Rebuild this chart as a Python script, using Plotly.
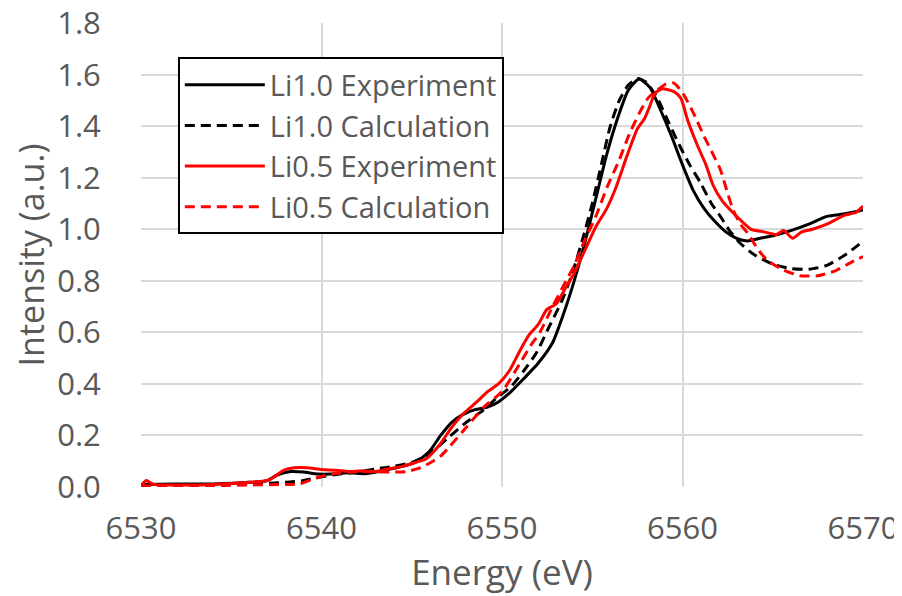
import plotly.graph_objects as go

# Li1.0 Experiment
x_li10_exp = [6530, 6532, 6534, 6536, 6537, 6537.5, 6538.3, 6539, 6539.8, 6540.5, 6541.5, 6542.5, 6543.5,
              6544.5, 6545.3, 6546, 6546.6, 6547.2, 6547.8, 6548.5, 6549.2, 6549.8, 6550.5, 6551.2, 6552,
              6552.8, 6553.4, 6554, 6554.6, 6555.2, 6555.8, 6556.4, 6557, 6557.6, 6558.2, 6558.8, 6559.4,
              6560, 6560.6, 6561.2, 6561.8, 6562.4, 6563, 6563.6, 6564.3, 6565, 6566, 6567, 6568, 6569, 6570]
y_li10_exp = [0.01, 0.012, 0.012, 0.018, 0.025, 0.045, 0.06, 0.058, 0.05, 0.05, 0.055, 0.052, 0.065,
              0.08, 0.10, 0.14, 0.20, 0.25, 0.28, 0.30, 0.31, 0.33, 0.37, 0.42, 0.48,
              0.56, 0.67, 0.80, 0.95, 1.12, 1.29, 1.43, 1.54, 1.583, 1.55, 1.46, 1.36,
              1.25, 1.15, 1.08, 1.03, 0.99, 0.965, 0.955, 0.965, 0.975, 0.995, 1.02, 1.05, 1.06, 1.075]

# Li1.0 Calculation
x_li10_calc = [6530, 6534, 6536, 6538, 6539, 6540, 6541, 6542, 6543, 6544, 6545, 6546, 6547, 6548, 6549,
               6549.7, 6550.5, 6551.2, 6551.9, 6552.6, 6553.3, 6553.9, 6554.5, 6555, 6555.5, 6556, 6556.5,
               6557, 6557.5, 6558, 6558.6, 6559.2, 6559.8, 6560.4, 6561, 6561.6, 6562.1, 6562.6, 6563.2,
               6564, 6565, 6566, 6567, 6568, 6569, 6570]
y_li10_calc = [0.01, 0.01, 0.012, 0.018, 0.025, 0.04, 0.05, 0.058, 0.07, 0.08, 0.095, 0.13, 0.19, 0.25, 0.30,
               0.345, 0.39, 0.45, 0.52, 0.62, 0.72, 0.83, 0.97, 1.10, 1.25, 1.40, 1.50,
               1.56, 1.585, 1.57, 1.51, 1.42, 1.33, 1.25, 1.18, 1.10, 1.05, 0.995, 0.946,
               0.90, 0.865, 0.848, 0.845, 0.86, 0.90, 0.953]

# Li0.5 Experiment
x_li05_exp = [6530, 6530.3, 6530.7, 6532, 6534, 6536, 6537, 6537.4, 6537.9, 6538.5, 6539.2, 6540, 6540.8,
              6541.5, 6542.3, 6543, 6543.8, 6544.5, 6545.2, 6545.8, 6546.5, 6547.2, 6547.9, 6548.6, 6549.2,
              6549.8, 6550.4, 6551, 6551.5, 6552, 6552.5, 6553, 6553.5, 6554, 6554.6, 6555.2, 6555.8,
              6556.3, 6556.9, 6557.5, 6557.9, 6558.2, 6558.5, 6558.9, 6559.5, 6559.9, 6560.3, 6560.8,
              6561.3, 6561.7, 6562.2, 6562.8, 6563.3, 6563.8, 6564.5, 6565.2, 6565.6, 6566.1, 6566.6,
              6567.2, 6568, 6569, 6569.6, 6570]
y_li05_exp = [0.005, 0.025, 0.01, 0.008, 0.01, 0.018, 0.025, 0.04, 0.065, 0.075, 0.075, 0.068, 0.065,
              0.06, 0.063, 0.06, 0.072, 0.08, 0.095, 0.11, 0.16, 0.23, 0.287, 0.33, 0.37,
              0.40, 0.45, 0.53, 0.59, 0.63, 0.69, 0.71, 0.77, 0.83, 0.92, 1.01, 1.08,
              1.16, 1.28, 1.39, 1.43, 1.48, 1.53, 1.545, 1.535, 1.51, 1.42, 1.33,
              1.25, 1.17, 1.11, 1.064, 1.03, 1.00, 0.99, 0.98, 0.995, 0.965, 0.99,
              1.00, 1.02, 1.055, 1.065, 1.09]

# Li0.5 Calculation
x_li05_calc = [6530, 6534, 6536, 6538, 6538.8, 6539.7, 6540.5, 6541.5, 6542.3, 6543.5, 6544.7, 6545.5,
               6546, 6546.6, 6547.1, 6548, 6549, 6550, 6551, 6551.6, 6552.1, 6552.8, 6553.4, 6554, 6554.6,
               6555.2, 6555.8, 6556.5, 6557, 6557.6, 6558.1, 6558.6, 6559.1, 6559.5, 6560, 6560.6, 6561.2,
               6561.7, 6562.1, 6562.5, 6562.8, 6563.2, 6563.6, 6564.2, 6564.7, 6565.5, 6566.5, 6567.5,
               6568.5, 6569.3, 6570]
y_li05_calc = [0.005, 0.005, 0.008, 0.01, 0.012, 0.035, 0.05, 0.057, 0.06, 0.058, 0.06, 0.075,
               0.093, 0.12, 0.157, 0.23, 0.31, 0.37, 0.48, 0.55, 0.60, 0.70, 0.78, 0.86, 0.96,
               1.05, 1.16, 1.27, 1.36, 1.45, 1.51, 1.54, 1.565, 1.568, 1.53, 1.452, 1.36,
               1.29, 1.231, 1.14, 1.076, 1.02, 0.986, 0.92, 0.88, 0.845, 0.82, 0.82,
               0.84, 0.87, 0.894]

# axis tick labels
x_ticks = [6530, 6540, 6550, 6560, 6570]
y_ticks = [0.0, 0.2, 0.4, 0.6, 0.8, 1.0, 1.2, 1.4, 1.6, 1.8]
y_tick_labels = ["0.0", "0.2", "0.4", "0.6", "0.8", "1.0", "1.2", "1.4", "1.6", "1.8"]

series = [
    ("Li1.0 Experiment", x_li10_exp, y_li10_exp, "black", "solid"),
    ("Li1.0 Calculation", x_li10_calc, y_li10_calc, "black", "10px,6px"),
    ("Li0.5 Experiment", x_li05_exp, y_li05_exp, "#ff0000", "solid"),
    ("Li0.5 Calculation", x_li05_calc, y_li05_calc, "#ff0000", "10px,6px"),
]

FONT = "Open Sans"
GRAY = "#595959"

fig = go.Figure()
for name, xs, ys, color, dash in series:
    fig.add_trace(go.Scatter(x=xs, y=ys, mode="lines", name=name,
                             line=dict(color=color, width=3, dash=dash, shape="spline", smoothing=0.6)))

# page body has an 8px margin, so the figure is sized to fit the 902x596 window
fig.update_layout(
    width=894, height=588,
    margin=dict(l=133, r=39, t=15, b=109),
    paper_bgcolor="white", plot_bgcolor="white",
    font=dict(family=FONT, color=GRAY, size=30),
    showlegend=True,
    legend=dict(x=0.051, y=0.926, xanchor="left", yanchor="top",
                bgcolor="white", bordercolor="black", borderwidth=2,
                font=dict(family=FONT, size=29, color=GRAY),
                tracegroupgap=0, itemwidth=80),
    xaxis=dict(range=[6530, 6570], tickvals=x_ticks, showgrid=True, gridcolor="#d9d9d9", gridwidth=2,
               zeroline=False, showline=False, automargin=False, ticklabeloverflow="allow",
               ticks="outside", ticklen=14, tickcolor="rgba(0,0,0,0)",
               tickfont=dict(size=31, color=GRAY),
               title=dict(text="Energy (eV)", font=dict(size=35, color=GRAY), standoff=12)),
    yaxis=dict(range=[0, 1.8005], tickvals=y_ticks, ticktext=y_tick_labels,
               showgrid=True, gridcolor="#d9d9d9", gridwidth=2,
               zeroline=False, showline=False, automargin=False, ticklabeloverflow="allow",
               ticks="outside", ticklen=33, tickcolor="rgba(0,0,0,0)",
               tickfont=dict(size=31, color=GRAY),
               title=dict(text="Intensity (a.u.)", font=dict(size=34, color=GRAY), standoff=20)),
)

fig.write_html("out.html")
